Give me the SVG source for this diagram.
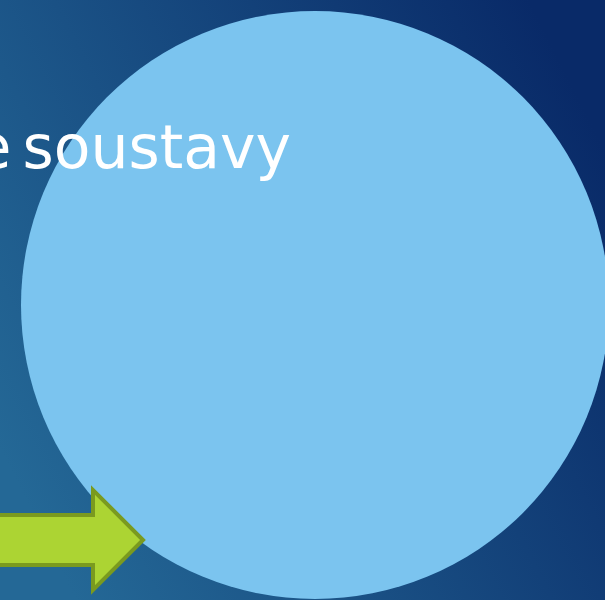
<svg xmlns="http://www.w3.org/2000/svg" width="605" height="600" viewBox="0 0 605 600">
<defs>
<linearGradient id="bg" x1="0" y1="0.75" x2="1" y2="0.25">
<stop offset="0" stop-color="#246896"/>
<stop offset="1" stop-color="#092a68"/>
</linearGradient>
<style>
.title{font-family:"DejaVu Sans","Open Sans",sans-serif;font-size:60px;fill:#ffffff}
</style>
</defs>
<rect width="605" height="600" fill="url(#bg)"/>
<g id="circle"><circle cx="315" cy="305" r="294" fill="#7bc4ef"/></g>
<g id="title"><text class="title" x="291" y="168" text-anchor="end" word-spacing="-8">e soustavy</text></g>
<g id="arrow"><polygon points="-5,515 93,515 93,490 143,540 93,590 93,565 -5,565" fill="#acd433" stroke="#7a9a1f" stroke-width="4"/></g>
</svg>
